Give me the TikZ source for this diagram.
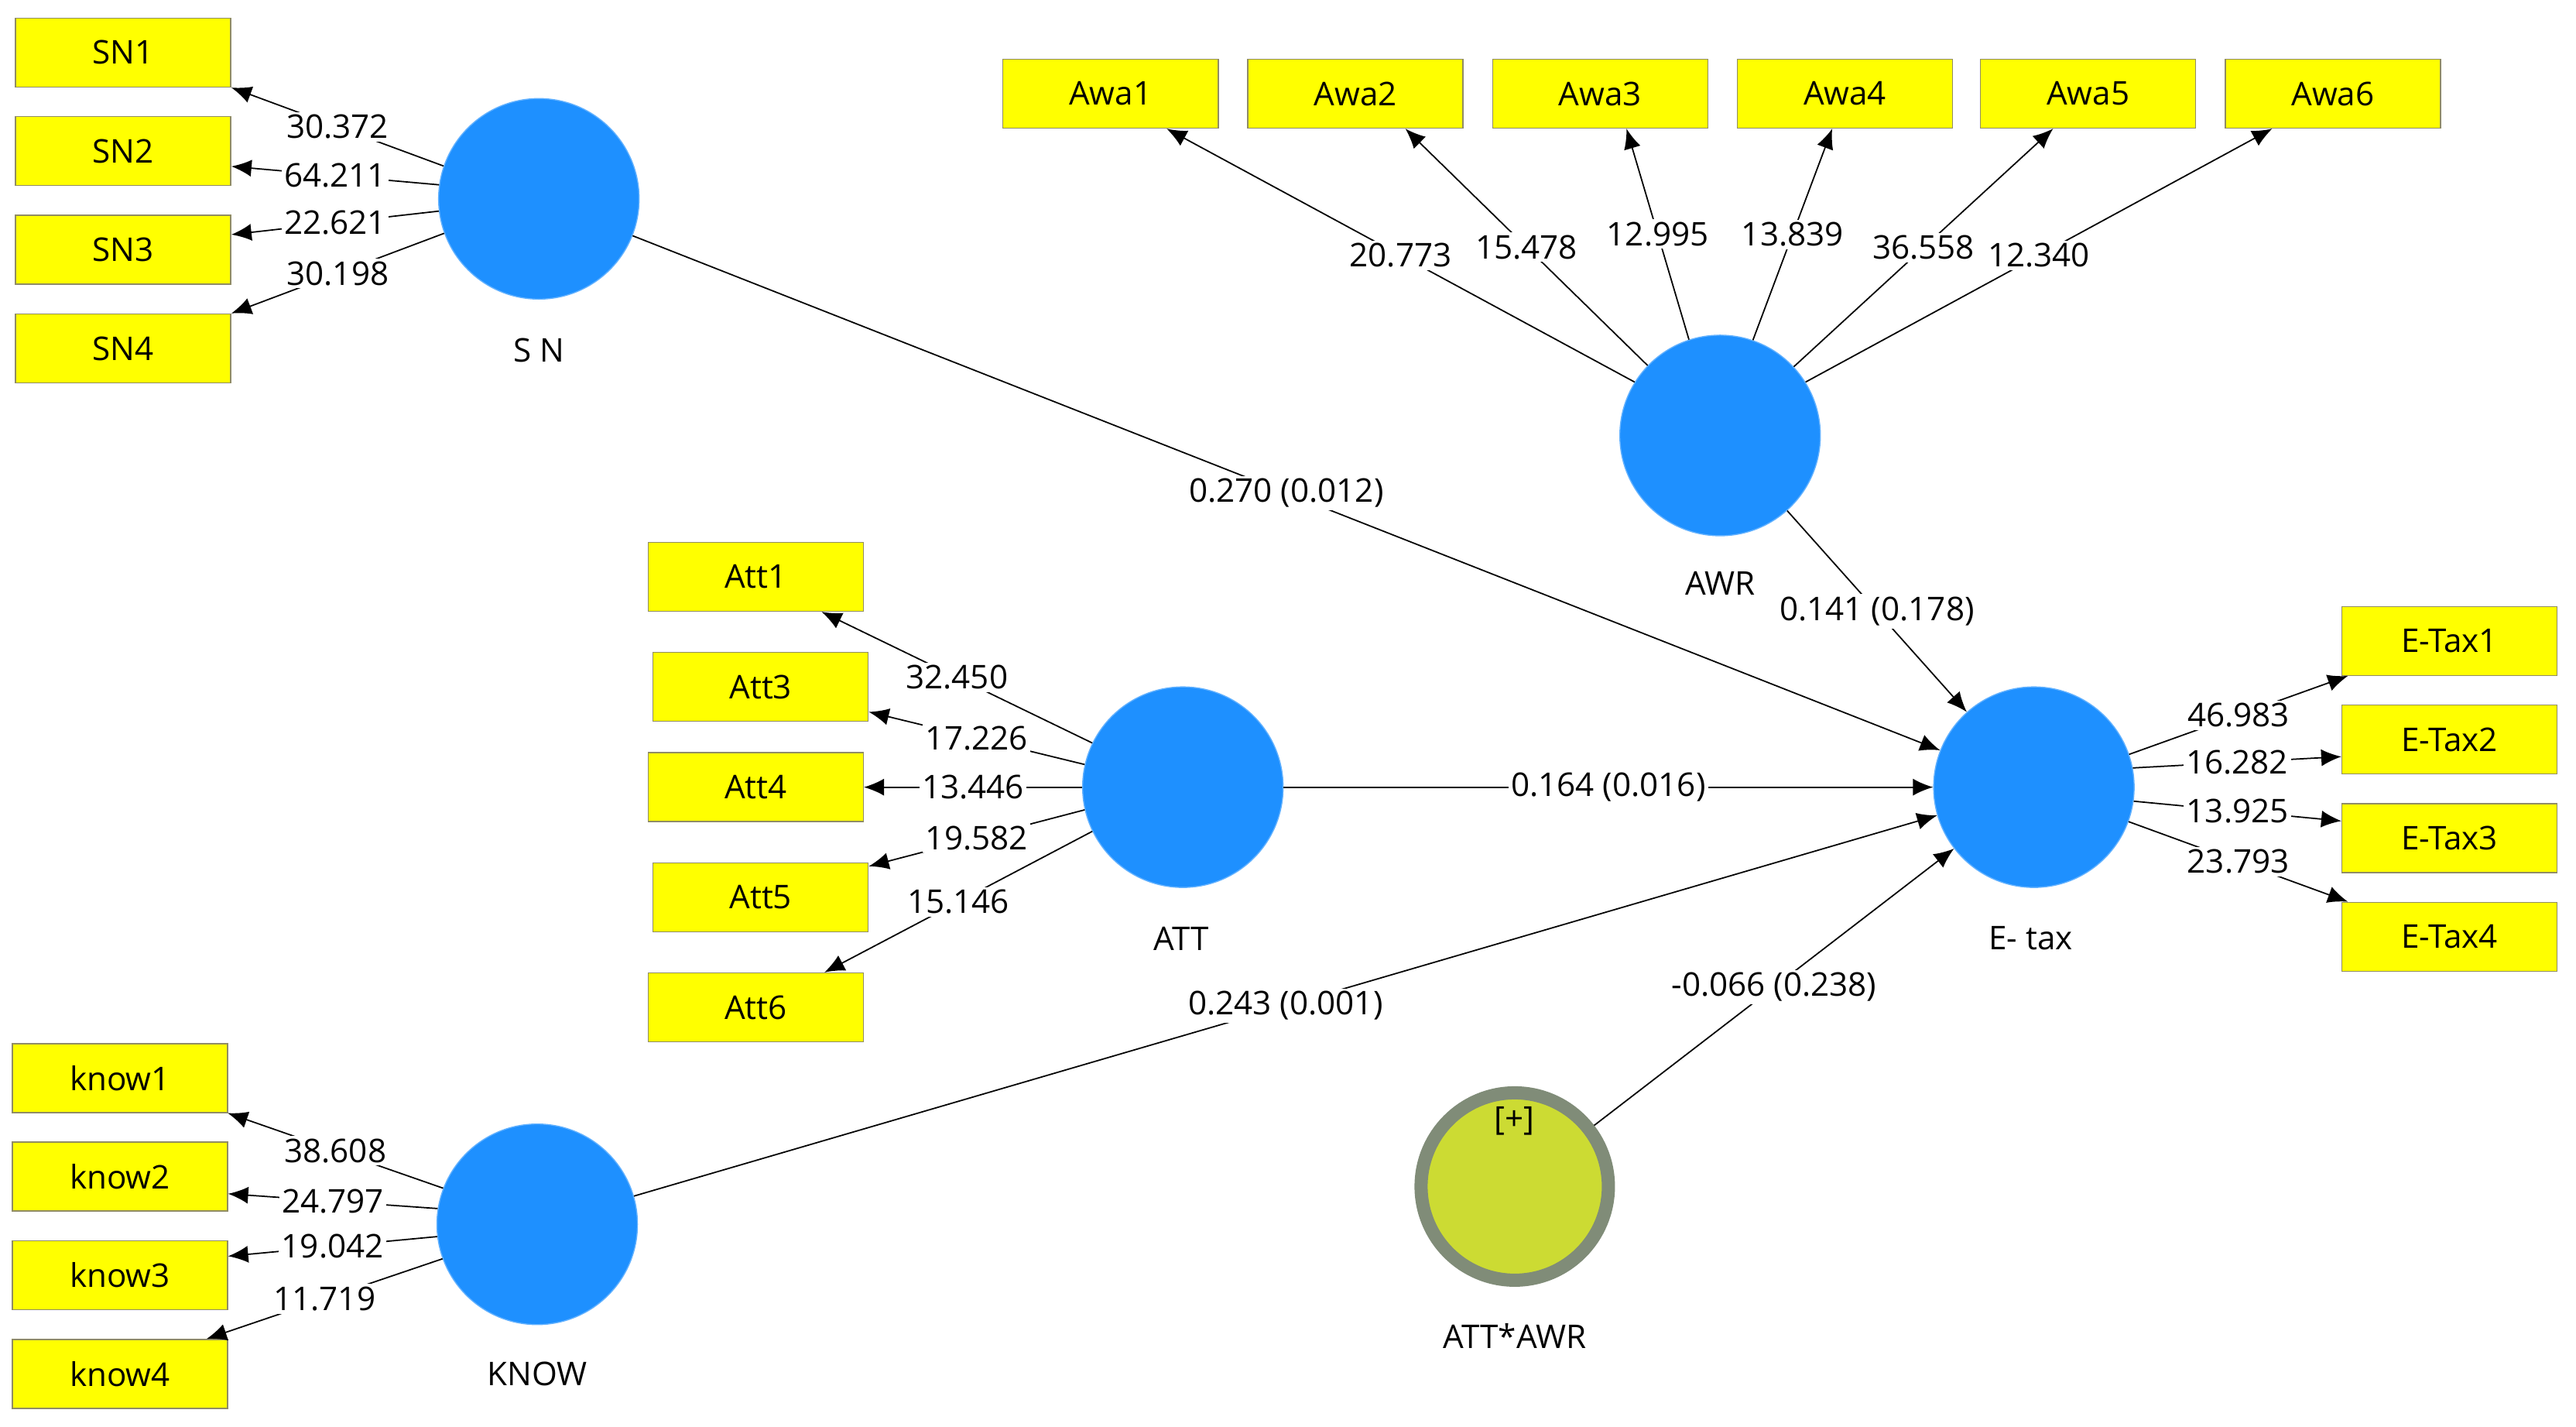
\documentclass[tikz,border=0pt]{standalone}
\usepackage{fontspec}
\setmainfont{Open Sans}
\usetikzlibrary{arrows.meta}
\definecolor{lvblue}{RGB}{30,144,255}
\definecolor{indyellow}{RGB}{255,255,0}
\definecolor{modfill}{RGB}{204,219,51}
\definecolor{modring}{RGB}{128,140,120}
\begin{document}
\begin{tikzpicture}[x=0.02122cm, y=-0.02122cm,
    font=\fontsize{12}{14}\selectfont,
    ind/.style={draw=gray!70!olive, fill=indyellow, minimum width=2.78cm, minimum height=0.89cm, inner sep=0pt},
    lv/.style={circle, fill=lvblue, draw=lvblue!70, minimum size=2.59cm, inner sep=0pt},
    arr/.style={-{Latex[length=2.6mm,width=2.2mm]}, line width=0.5pt},
    lbl/.style={fill=white, inner sep=1pt}]
    % Canvas
    \useasboundingbox[fill=white] (0,0) rectangle (1568,868);

    % Latent variables
    \node[lv] (SN) at (328,121) {};
    \node[lv] (AWR) at (1047,265) {};
    \node[lv] (ATT) at (720,479) {};
    \node[lv] (Etax) at (1238,479) {};
    \node[lv] (KNOW) at (327,745) {};
    \node[circle, fill=modfill, draw=modring, line width=0.17cm, minimum size=2.42cm, inner sep=0pt] (MOD) at (922,722) {};
    \node (plus) at (922,682) {[+]};

    % Latent variable labels
    \node (SNl) at (328,213) {S N};
    \node (AWRl) at (1047,355) {AWR};
    \node (ATTl) at (719,571) {ATT};
    \node (Etaxl) at (1236,571) {E- tax};
    \node (KNOWl) at (327,836) {KNOW};
    \node (MODl) at (922,813) {ATT*AWR};

    % Indicators
    \foreach \i/\y in {1/32,2/92,3/152,4/212}
        \node[ind] (SN\i) at (75,\y) {SN\i};
    \foreach \i/\x in {1/676,2/825,3/974,4/1123,5/1271,6/1420}
        \node[ind] (Awa\i) at (\x,57) {Awa\i};
    \foreach \i/\x/\y in {1/460/351,3/463/418,4/460/479,5/463/546,6/460/613}
        \node[ind] (Att\i) at (\x,\y) {Att\i};
    \foreach \i/\y in {1/390,2/450,3/510,4/570}
        \node[ind] (ET\i) at (1491,\y) {E-Tax\i};
    \foreach \i/\y in {1/656,2/716,3/776,4/836}
        \node[ind] (know\i) at (73,\y) {know\i};

    % Outer loadings
    \foreach \a/\t/\b/\v in {161/SN1/south east/30.372, 172/SN2/-8/64.211,
                             187/SN3/8/22.621, 200/SN4/north east/30.198}
        \draw[arr] (SN.\a) -- node[lbl] {\v} (\t.\b);
    \foreach \a/\t/\b/\v in {148/Awa1/-32/20.773, 136/Awa2/-35/15.478, 108/Awa3/-53/12.995,
                             71/Awa4/-110/13.839, 43/Awa5/-135/36.558, 32/Awa6/-150/12.340}
        \draw[arr] (AWR.\a) -- node[lbl] {\v} (\t.\b);
    \foreach \a/\t/\b/\v in {154/Att1/-28/32.450, 167/Att3/-13/17.226, 180/Att4/0/13.446,
                             193/Att5/16/19.582, 206/Att6/27/15.146}
        \draw[arr] (ATT.\a) -- node[lbl] {\v} (\t.\b);
    \foreach \a/\t/\b/\v in {19/ET1/199/46.983, 11/ET2/189/16.282,
                             -8/ET3/171/13.925, -20/ET4/161/23.793}
        \draw[arr] (Etax.\a) -- node[lbl] {\v} (\t.\b);
    \foreach \a/\t/\b/\v in {159/know1/-18/38.608, 171/know2/-9/24.797,
                             187/know3/10/19.042, 200/know4/22/11.719}
        \draw[arr] (KNOW.\a) -- node[lbl] {\v} (\t.\b);

    % Inner paths
    \draw[arr] (SN) -- node[lbl] {0.270 (0.012)} (Etax);
    \draw[arr] (ATT) -- node[lbl] {0.164 (0.016)} (Etax);
    \draw[arr] (KNOW) -- node[lbl] {0.243 (0.001)} (Etax);
    \draw[arr] (AWR) -- node[lbl] {0.141 (0.178)} (Etax);
    \draw[arr] (MOD) -- node[lbl] {-0.066 (0.238)} (Etax);
\end{tikzpicture}
\end{document}
